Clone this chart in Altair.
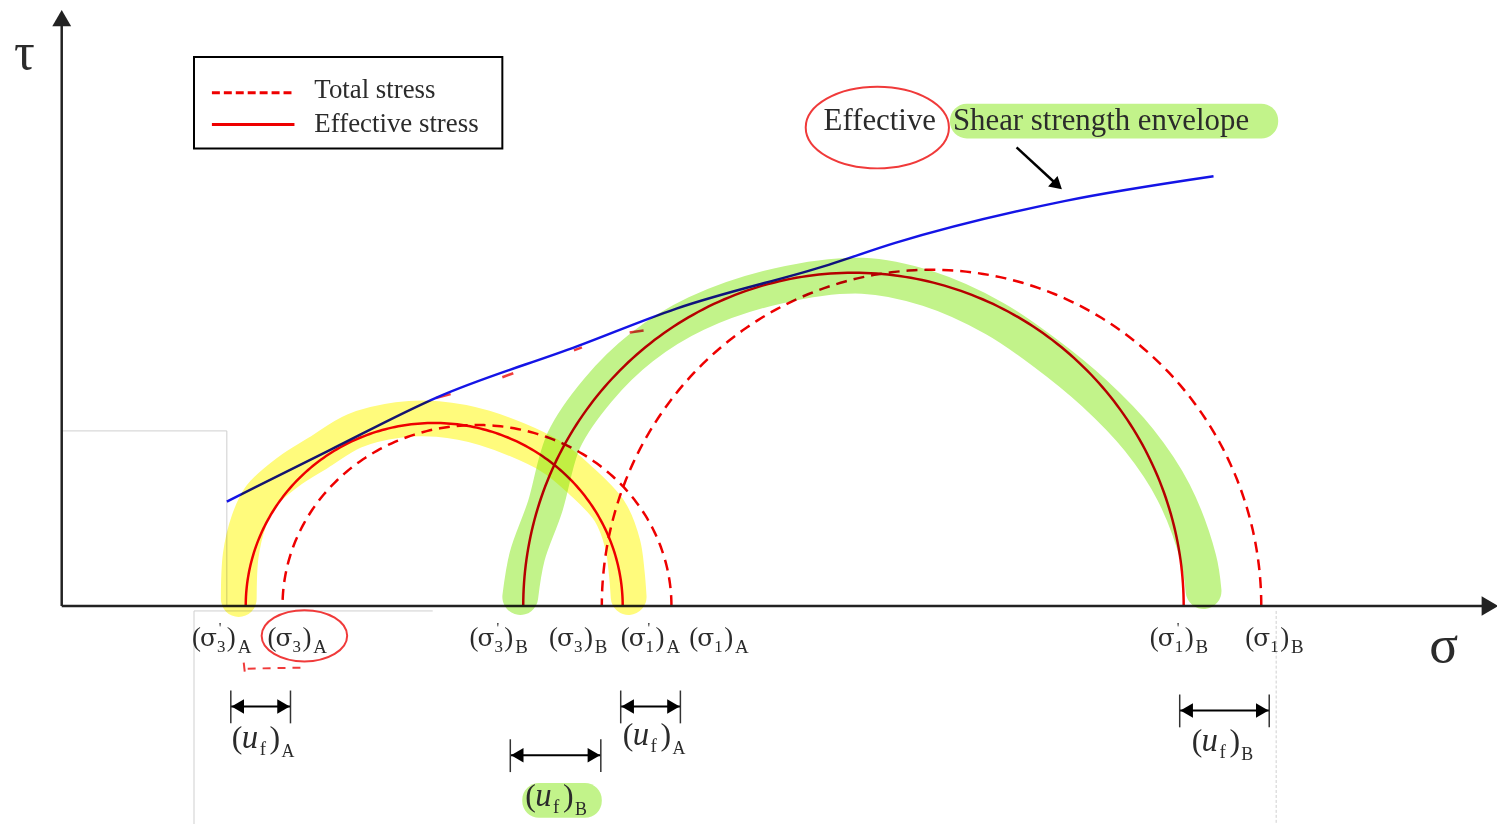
import altair as alt
import numpy as np
import pandas as pd

# ---------------- canvas / scale set-up (1 stress unit = 1 px) ----------------
W, H = 1497, 816
X_MIN = -54
X_MAX = X_MIN + W
Y_MAX = 599
Y_MIN = Y_MAX - H

SERIF = "Liberation Serif"
TXT = "#2b2b2b"
RED = "#ee0000"
BLUE = "#1414e6"
AXIS = "#222222"
GRAY = "#cfcfcf"
YELLOW = "#fffb7c"
GREEN = "#c2f38a"

# ---------------- data ----------------
# Mohr circles (sigma3, sigma1, peak tau as drawn)
circle_names = ["eff_A", "tot_A", "eff_B", "tot_B"]
circle_kind = ["effective", "total", "effective", "total"]
circle_sigma3 = [185, 222, 464, 543]
circle_sigma1 = [564, 613, 1128, 1206]
circle_taumax = [184, 182, 335, 338]

# effective shear strength envelope
env_sigma = [166, 270, 378, 518, 618, 771, 838, 1008, 1158]
env_tau = [105, 157, 210, 261, 299, 343, 365, 407, 432]

# fragments of the (hidden) total-stress envelope peeking out below the blue line
frag_s1 = [376, 443, 515, 571]
frag_t1 = [209, 230, 257, 275]
frag_s2 = [391, 454, 523, 585]
frag_t2 = [213, 234, 260, 277]

# hand-drawn highlighter strokes
yellow_sigma = [178, 180, 188, 200, 228, 258, 294, 338, 378, 425, 491, 523, 551, 564, 568, 570]
yellow_tau = [7, 51, 85, 110, 135, 154, 176, 187, 188, 179, 151, 125, 95, 62, 34, 9]
green_sigma = [461, 468, 486, 505, 539, 583, 638, 721, 805, 871, 938, 988, 1038, 1083, 1118, 1143, 1148]
green_tau = [9, 50, 100, 167, 217, 260, 294, 322, 332, 319, 289, 255, 214, 167, 114, 47, 15]

# sigma tick labels under the axis
sig_label_x = [131, 207, 410, 490, 562, 631, 1094, 1190]
sig_label_digit = ["3", "3", "3", "3", "1", "1", "1", "1"]
sig_label_prime = [True, False, True, False, True, False, True, False]
sig_label_case = ["A", "A", "B", "B", "A", "A", "B", "B"]
SIG_LABEL_TAU = -40

# pore pressure dimension arrows
dim_left = [170, 562, 451, 1124]
dim_right = [230, 622, 542, 1214]
dim_tau = [-101, -101, -150, -105]
uf_label_x = [171, 564, 466, 1136]
uf_label_tau = [-143, -140, -201, -146]
uf_label_case = ["A", "A", "B", "B"]

# legend
legend_labels = ["Total stress", "Effective stress"]
legend_tau = [516, 484]

# ---------------- helpers ----------------
xs = alt.Scale(domain=[X_MIN, X_MAX], nice=False, zero=False)
ys = alt.Scale(domain=[Y_MIN, Y_MAX], nice=False, zero=False)


def X(f):
    return alt.X(f, type="quantitative", scale=xs, axis=None)


def Y(f):
    return alt.Y(f, type="quantitative", scale=ys, axis=None)


def seg(df, **mk):
    return alt.Chart(df).mark_rule(**mk).encode(x=X("x"), y=Y("y"), x2=alt.X2("x2"), y2=alt.Y2("y2"))


def txt(df, field, size, dx=0, dy=0, italic=False, color=TXT, align="left", font=SERIF):
    return alt.Chart(df).mark_text(
        align=align, baseline="alphabetic", dx=dx, dy=dy, fontSize=size, font=font,
        fontStyle="italic" if italic else "normal", color=color,
    ).encode(x=X("x"), y=Y("y"), text=alt.Text(f"{field}:N"))


def tri(df, shape, size, color="black", angle=0):
    return alt.Chart(df).mark_point(shape=shape, filled=True, size=size, color=color,
                                     opacity=1, angle=angle, strokeWidth=0).encode(x=X("x"), y=Y("y"))


layers = []

# light gray frame remnants
gray_df = pd.DataFrame({
    "x": [0, 166, 133, 133],
    "y": [176, 176, -5, -5],
    "x2": [166, 166, 373, 133],
    "y2": [176, 0, -5, -240],
})
layers.append(seg(gray_df, color=GRAY, strokeWidth=1))
layers.append(seg(pd.DataFrame({"x": [1221], "y": [-5], "x2": [1221], "y2": [-240]}),
                  color=GRAY, strokeWidth=1, strokeDash=[3, 2]))

# label backgrounds (green highlighter boxes)
bg_df = pd.DataFrame({"x": [893, 463], "x2": [1223, 543], "y": [505, -178], "y2": [470, -213]})
layers.append(alt.Chart(bg_df).mark_rect(color=GREEN, cornerRadius=17).encode(
    x=X("x"), x2=alt.X2("x2"), y=Y("y"), y2=alt.Y2("y2")))

# legend box
layers.append(alt.Chart(pd.DataFrame({"x": [133], "x2": [443], "y": [552], "y2": [460]})).mark_rect(
    fillOpacity=0, stroke="black", strokeWidth=2).encode(x=X("x"), x2=alt.X2("x2"), y=Y("y"), y2=alt.Y2("y2")))
layers.append(seg(pd.DataFrame({"x": [151], "x2": [234], "y": [legend_tau[0]], "y2": [legend_tau[0]]}),
                  color=RED, strokeWidth=3, strokeDash=[8, 4]))
layers.append(seg(pd.DataFrame({"x": [151], "x2": [234], "y": [legend_tau[1]], "y2": [legend_tau[1]]}),
                  color=RED, strokeWidth=3))
leg_txt = pd.DataFrame({"x": [254, 254], "y": [legend_tau[0] - 5, legend_tau[1] - 7], "t": legend_labels})
layers.append(txt(leg_txt, "t", 27))

# Mohr circles
th = np.linspace(0, np.pi, 181)
rows = []
for n, k, s3, s1, tm in zip(circle_names, circle_kind, circle_sigma3, circle_sigma1, circle_taumax):
    c, r = (s1 + s3) / 2, (s1 - s3) / 2
    for i, t in enumerate(th):
        rows.append({"circle": n, "kind": k, "i": i, "x": c + r * np.cos(t), "y": tm * np.sin(t)})
circ = pd.DataFrame(rows)
layers.append(alt.Chart(circ[circ.kind == "total"]).mark_line(color=RED, strokeWidth=2.5, strokeDash=[11, 7]).encode(
    x=X("x"), y=Y("y"), detail="circle:N", order="i:Q"))
layers.append(alt.Chart(circ[circ.kind == "effective"]).mark_line(color=RED, strokeWidth=2.5).encode(
    x=X("x"), y=Y("y"), detail="circle:N", order="i:Q"))

# total envelope fragments
layers.append(seg(pd.DataFrame({"x": frag_s1, "y": frag_t1, "x2": frag_s2, "y2": frag_t2}),
                  color="#f03c3c", strokeWidth=2.5))

# effective envelope
env = pd.DataFrame({"x": env_sigma, "y": env_tau, "i": range(len(env_sigma))})
layers.append(alt.Chart(env).mark_line(color=BLUE, strokeWidth=2.5, interpolate="monotone").encode(
    x=X("x"), y=Y("y"), order="i:Q"))

# axes
layers.append(seg(pd.DataFrame({"x": [0, 0], "y": [0, 0], "x2": [0, 1430], "y2": [584, 0]}),
                  color=AXIS, strokeWidth=2.5))
layers.append(tri(pd.DataFrame({"x": [0], "y": [591]}), "triangle-up", 360, AXIS))
layers.append(tri(pd.DataFrame({"x": [1436], "y": [0]}), "triangle-right", 380, AXIS))

# highlighter strokes (multiply blend, on top)
hy = pd.DataFrame({"x": yellow_sigma, "y": yellow_tau, "i": range(len(yellow_sigma))})
hg = pd.DataFrame({"x": green_sigma, "y": green_tau, "i": range(len(green_sigma))})
for d, col in [(hy, YELLOW), (hg, GREEN)]:
    layers.append(alt.Chart(d).mark_line(color=col, strokeWidth=36, strokeCap="round", strokeJoin="round",
                                         interpolate="catmull-rom", blend="multiply").encode(
        x=X("x"), y=Y("y"), order="i:Q"))

# axis symbols
layers.append(txt(pd.DataFrame({"x": [-48], "y": [540], "t": ["τ"]}), "t", 52))
layers.append(txt(pd.DataFrame({"x": [1375], "y": [-56], "t": ["σ"]}), "t", 54))

# envelope caption
cap = pd.DataFrame({"x": [766, 896], "y": [479, 479], "t": ["Effective", "Shear strength envelope"]})
layers.append(txt(cap, "t", 31))
layers.append(seg(pd.DataFrame({"x": [960], "y": [461], "x2": [998], "y2": [426]}), color="black", strokeWidth=2.5))
layers.append(tri(pd.DataFrame({"x": [1001], "y": [423]}), "triangle-up", 200, "black", angle=132))

# sigma tick labels (composite: "(" + "σ" + prime + digit + ")" + case)
sl = pd.DataFrame({"x": sig_label_x, "y": [SIG_LABEL_TAU] * len(sig_label_x), "d": sig_label_digit,
                   "c": sig_label_case, "p": sig_label_prime})
sl["open"] = "("
sl["sig"] = "σ"
sl["close"] = ")"
sl["prime"] = "'"
layers.append(txt(sl, "open", 27))
layers.append(txt(sl, "sig", 25, dx=8, font="DejaVu Serif"))
layers.append(txt(sl, "d", 17, dx=25, dy=6))
layers.append(txt(sl[sl.p], "prime", 15, dx=27, dy=-13))
layers.append(txt(sl, "close", 27, dx=35))
layers.append(txt(sl, "c", 19, dx=46, dy=7))

# pore pressure dimension arrows
dm = pd.DataFrame({"l": dim_left, "r": dim_right, "t": dim_tau})
layers.append(seg(pd.DataFrame({"x": dm.l, "x2": dm.r, "y": dm.t, "y2": dm.t}), color="black", strokeWidth=2))
ticks = pd.DataFrame({"x": list(dm.l) + list(dm.r), "x2": list(dm.l) + list(dm.r),
                      "y": list(dm.t + 16) * 2, "y2": list(dm.t - 17) * 2})
layers.append(seg(ticks, color="#333333", strokeWidth=1.5))
layers.append(tri(pd.DataFrame({"x": dm.l + 7, "y": dm.t}), "triangle-left", 210, "black"))
layers.append(tri(pd.DataFrame({"x": dm.r - 7, "y": dm.t}), "triangle-right", 210, "black"))

ul = pd.DataFrame({"x": uf_label_x, "y": uf_label_tau, "c": uf_label_case})
ul["open"] = "("
ul["u"] = "u"
ul["f"] = "f"
ul["close"] = ")"
layers.append(txt(ul, "open", 32))
layers.append(txt(ul, "u", 33, dx=10, italic=True))
layers.append(txt(ul, "f", 19, dx=28, dy=7))
layers.append(txt(ul, "close", 32, dx=38))
layers.append(txt(ul, "c", 18, dx=50, dy=9))

# red hand-drawn annotations
layers.append(alt.Chart(pd.DataFrame({"x": [820], "y": [481]})).mark_point(
    shape="M -1 0 A 1 0.57 0 1 1 1 0 A 1 0.57 0 1 1 -1 0 Z", filled=False, color="#f03a3a",
    strokeWidth=2, opacity=1, size=144 ** 2).encode(x=X("x"), y=Y("y")))
layers.append(alt.Chart(pd.DataFrame({"x": [244], "y": [-30]})).mark_point(
    shape="M -1 0 A 1 0.6 0 1 1 1 0 A 1 0.6 0 1 1 -1 0 Z", filled=False, color="#f03a3a",
    strokeWidth=2, opacity=1, size=86 ** 2).encode(x=X("x"), y=Y("y")))
layers.append(seg(pd.DataFrame({"x": [187], "x2": [243], "y": [-63], "y2": [-62]}), color="#f03a3a",
                  strokeWidth=2, strokeDash=[8, 7]))
layers.append(seg(pd.DataFrame({"x": [183], "x2": [184], "y": [-57], "y2": [-66]}), color="#f03a3a", strokeWidth=2))

chart = alt.layer(*layers).properties(
    width=W, height=H, padding=0, autosize=alt.AutoSizeParams(type="none")
).configure_view(stroke=None)

chart.save("out.html", embed_options={"renderer": "svg", "actions": False})
